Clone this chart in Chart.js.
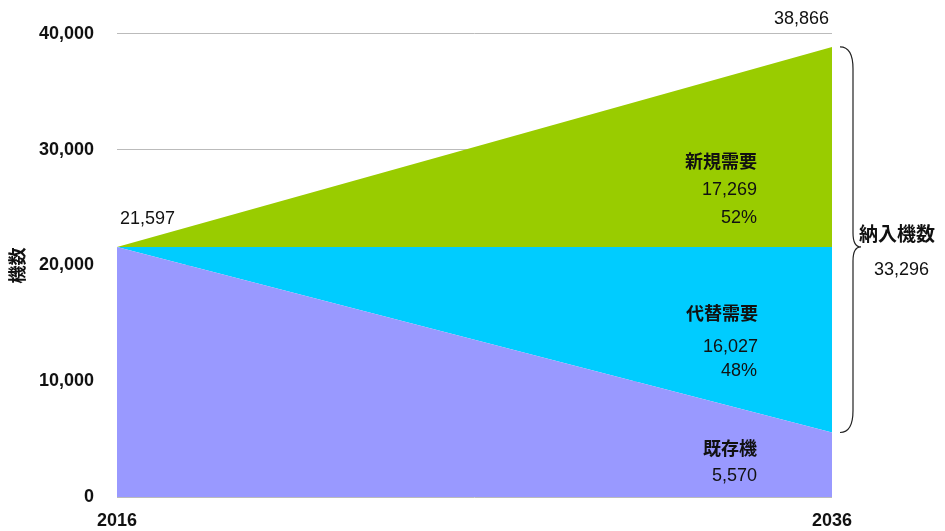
<!DOCTYPE html>
<html>
<head>
<meta charset="utf-8">
<script src="https://cdn.jsdelivr.net/npm/chart.js@4/dist/chart.umd.min.js"></script>
<style>
  html, body { margin: 0; padding: 0; background: #fff; }
  #wrap { width: 945px; height: 531px; }
</style>
</head>
<body>
<div id="wrap"><canvas id="areaChart"></canvas></div>
<script>
// data
const years = ['2016', '2036'];
const existing = [21597, 5570];     // 既存機
const replacement = [0, 16027];     // 代替需要
const newDemand = [0, 17269];       // 新規需要
const yTicks = [0, 10000, 20000, 30000, 40000];

const fmt = n => n.toLocaleString('en-US');
const jpFont = '"Noto Sans CJK JP", "Liberation Sans", Arial, sans-serif';
const numFont = '"Liberation Sans", Arial, sans-serif';

// text labels + brace on the right
const labelPlugin = {
    id: 'labels',
    afterDatasetsDraw(chart) {
        const ctx = chart.ctx;
        const x = chart.scales.x;
        const y = chart.scales.y;
        const x0 = x.getPixelForValue(0);
        const x1 = x.getPixelForValue(1);
        const start = existing[0] + replacement[0] + newDemand[0];
        const total = existing[1] + replacement[1] + newDemand[1];
        const delivered = replacement[1] + newDemand[1];

        ctx.save();
        ctx.fillStyle = '#111';
        ctx.textBaseline = 'middle';

        ctx.font = '18px ' + numFont;
        ctx.textAlign = 'left';
        ctx.fillText(fmt(start), x0 + 3, y.getPixelForValue(start) - 28);
        ctx.textAlign = 'right';
        ctx.fillText(fmt(total), x1 - 3, y.getPixelForValue(total) - 28);

        const rx = x1 - 75;
        // 新規需要
        ctx.font = 'bold 18px ' + jpFont;
        ctx.fillText('新規需要', rx, 161);
        ctx.font = '18px ' + numFont;
        ctx.fillText(fmt(newDemand[1]), rx, 190);
        ctx.fillText(Math.round(newDemand[1] / delivered * 100) + '%', rx, 218);
        // 代替需要
        ctx.font = 'bold 18px ' + jpFont;
        ctx.fillText('代替需要', rx + 1, 313);
        ctx.font = '18px ' + numFont;
        ctx.fillText(fmt(replacement[1]), rx + 1, 347);
        ctx.fillText(Math.round(replacement[1] / delivered * 100) + '%', rx, 371);
        // 既存機
        ctx.font = 'bold 18px ' + jpFont;
        ctx.fillText('既存機', rx, 448);
        ctx.font = '18px ' + numFont;
        ctx.fillText(fmt(existing[1]), rx, 476);

        // brace
        const yTop = y.getPixelForValue(total);
        const yBot = y.getPixelForValue(existing[1]);
        const yMid = y.getPixelForValue(existing[0]);
        const bx = x1 + 21;
        ctx.strokeStyle = '#222';
        ctx.lineWidth = 1.2;
        ctx.beginPath();
        ctx.moveTo(x1 + 8, yTop);
        ctx.quadraticCurveTo(bx, yTop, bx, yTop + 22);
        ctx.lineTo(bx, yMid - 14);
        ctx.quadraticCurveTo(bx, yMid, bx + 8, yMid);
        ctx.quadraticCurveTo(bx, yMid, bx, yMid + 14);
        ctx.lineTo(bx, yBot - 22);
        ctx.quadraticCurveTo(bx, yBot, x1 + 8, yBot);
        ctx.stroke();

        ctx.textAlign = 'left';
        ctx.font = 'bold 19px ' + jpFont;
        ctx.fillText('納入機数', bx + 6, yMid - 13);
        ctx.font = '18px ' + numFont;
        ctx.fillText(fmt(delivered), bx + 21, yMid + 23);
        ctx.restore();
    }
};

const ctx = document.getElementById('areaChart').getContext('2d');
new Chart(ctx, {
    type: 'line',
    data: {
        labels: years,
        datasets: [
            { label: '既存機', data: existing, backgroundColor: '#9999ff', fill: 'origin' },
            { label: '代替需要', data: replacement, backgroundColor: '#00ccff', fill: '-1' },
            { label: '新規需要', data: newDemand, backgroundColor: '#99cc00', fill: '-1' }
        ].map(d => Object.assign(d, { borderWidth: 0, pointRadius: 0, tension: 0 }))
    },
    options: {
        responsive: true,
        maintainAspectRatio: false,
        animation: false,
        layout: { padding: { top: 30, right: 113, left: 0, bottom: 0 } },
        plugins: { legend: { display: false }, tooltip: { enabled: false } },
        scales: {
            x: {
                offset: false,
                grid: { display: false, drawTicks: false },
                border: { display: false },
                ticks: { color: '#111', font: { family: numFont, size: 18, weight: 'bold' }, padding: 13, maxRotation: 0 },
                afterFit: s => { s.height = 34; }
            },
            y: {
                stacked: true,
                min: 0,
                max: 40000,
                afterBuildTicks: s => { s.ticks = yTicks.map(v => ({ value: v })); },
                grid: { color: '#bbbbbb', drawTicks: false },
                border: { display: false },
                ticks: { color: '#111', font: { family: numFont, size: 18, weight: 'bold' }, padding: 23, callback: v => fmt(v) },
                title: { display: true, text: '機数', color: '#111', font: { family: jpFont, size: 18, weight: 'bold' }, padding: { top: 6 } },
                afterFit: s => { s.width = 117; }
            }
        }
    },
    plugins: [labelPlugin]
});
</script>
</body>
</html>
